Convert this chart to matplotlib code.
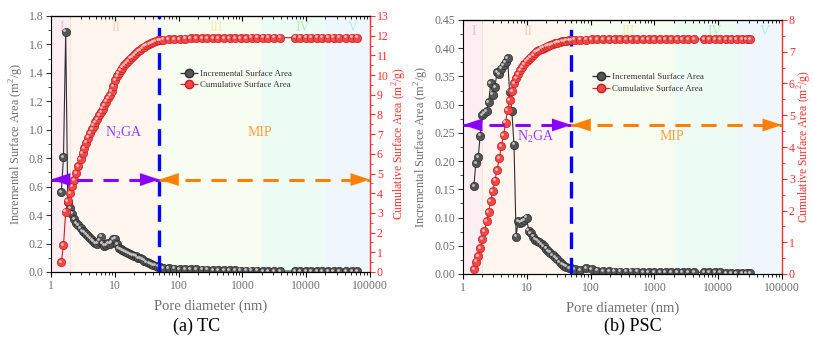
import matplotlib
matplotlib.use("Agg")
import matplotlib.pyplot as plt
from matplotlib.lines import Line2D
from matplotlib.ticker import FixedLocator, NullFormatter, MultipleLocator, FormatStrFormatter
import matplotlib.transforms as mtransforms

plt.rcParams['font.family'] = ['Liberation Serif', 'DejaVu Serif']
plt.rcParams['mathtext.fontset'] = 'custom'
plt.rcParams['mathtext.rm'] = 'Liberation Serif'

# ---------------- DATA ----------------
# (a) TC
tc_d = [1.45, 1.57, 1.70, 1.83, 1.97, 2.12, 2.30, 2.48, 2.68, 2.90, 3.12, 3.35, 3.58, 3.82, 4.08,
        4.36, 4.66, 4.98, 5.32, 5.68, 6.05, 6.45, 6.88, 7.34, 7.83, 8.35, 8.90, 9.48, 10.1, 10.8,
        11.5, 12.3, 13.1, 14.0, 15.0, 16.1, 17.3, 18.6, 20.0, 21.5, 23.2, 25.0, 27.0, 29.2, 31.6,
        34.2, 37.0, 40.1, 43.5, 47.2, 51.0,
        57, 70, 85, 104, 127, 155, 190, 232, 283, 346, 422, 516, 630, 770, 940, 1150, 1400, 1710,
        2090, 2550, 3120, 3900, 6650, 8100, 9900, 12100, 14800, 18000, 22000, 27000, 33000,
        42000, 52000, 63000]
tc_inc = [0.56, 0.81, 1.69, 0.49, 0.45, 0.41, 0.37, 0.345, 0.33, 0.31, 0.29, 0.28, 0.265, 0.25, 0.237,
          0.225, 0.213, 0.205, 0.20, 0.22, 0.248, 0.20, 0.185, 0.19, 0.205, 0.20, 0.21, 0.23, 0.235, 0.195,
          0.17, 0.16, 0.152, 0.145, 0.14, 0.132, 0.125, 0.12, 0.115, 0.11, 0.10, 0.095, 0.088, 0.08, 0.072,
          0.065, 0.058, 0.05, 0.045, 0.038, 0.033,
          0.028, 0.025, 0.023, 0.021, 0.020, 0.019, 0.018, 0.017, 0.016, 0.015, 0.014, 0.013, 0.012,
          0.011, 0.010, 0.010, 0.009, 0.009, 0.008, 0.008, 0.007, 0.007, 0.006, 0.006, 0.006, 0.006,
          0.005, 0.005, 0.005, 0.005, 0.005, 0.004, 0.004, 0.004]
tc_cum = [0.5, 1.35, 3.06, 3.6, 4.0, 4.35, 4.68, 5.02, 5.37, 5.75, 6.05, 6.3, 6.57, 6.83, 7.04,
          7.25, 7.43, 7.6, 7.78, 7.95, 8.12, 8.3, 8.48, 8.65, 8.82, 9.0, 9.2, 9.45, 9.75, 9.95,
          10.1, 10.25, 10.38, 10.5, 10.6, 10.72, 10.83, 10.93, 11.03, 11.12, 11.2, 11.28, 11.36, 11.44, 11.51,
          11.57, 11.63, 11.68, 11.72, 11.76, 11.78,
          11.80, 11.82, 11.83, 11.84, 11.85, 11.86, 11.86, 11.87, 11.87, 11.88, 11.88, 11.88, 11.89,
          11.89, 11.89, 11.89, 11.90, 11.90, 11.90, 11.90, 11.90, 11.90, 11.90, 11.90, 11.90, 11.90,
          11.90, 11.90, 11.90, 11.90, 11.90, 11.90, 11.90, 11.90]

# (b) PSC
psc_d = [1.48, 1.59, 1.73, 1.86, 2.02, 2.17, 2.35, 2.53, 2.72, 2.92, 3.17, 3.41, 3.71, 3.99, 4.33,
         4.65, 5.0, 5.37, 5.83, 6.3, 6.8, 7.3, 7.9, 8.5, 9.2, 9.9, 10.7, 11.5, 12.4, 13.4,
         14.5, 15.7, 17.0, 18.4, 20.0, 21.7, 23.5, 25.5, 27.7, 30.0, 32.6, 35.4, 38.5, 41.8, 45.5, 49.5,
         56, 69, 85, 104, 128, 157, 193, 237, 291, 357, 438, 538, 660, 810, 995, 1220, 1500, 1840,
         2260, 2780, 3410, 4190, 6000, 7300, 8900, 10800, 13200, 16000, 19500, 23700, 28000, 32000]
psc_inc = [0.156, 0.197, 0.207, 0.245, 0.282, 0.285, 0.289, 0.305, 0.338, 0.318, 0.331, 0.358, 0.354, 0.364, 0.370,
           0.376, 0.382, 0.323, 0.288, 0.229, 0.066, 0.094, 0.091, 0.093, 0.096, 0.100, 0.077, 0.072, 0.066, 0.061,
           0.059, 0.056, 0.053, 0.049, 0.045, 0.041, 0.038, 0.034, 0.030, 0.026, 0.021, 0.018, 0.015, 0.013, 0.011, 0.010,
           0.008, 0.007, 0.010, 0.008, 0.006, 0.005, 0.005, 0.004, 0.004, 0.004, 0.004, 0.004, 0.003, 0.003,
           0.003, 0.003, 0.003, 0.003, 0.003, 0.003, 0.003, 0.003, 0.003, 0.003, 0.003, 0.003, 0.002, 0.002,
           0.002, 0.002, 0.002, 0.002]
psc_cum = [0.15, 0.39, 0.57, 0.81, 1.09, 1.36, 1.66, 1.96, 2.30, 2.61, 2.94, 3.28, 3.64, 4.03, 4.38,
           4.77, 5.17, 5.48, 5.77, 6.0, 6.17, 6.3, 6.42, 6.52, 6.62, 6.70, 6.77, 6.84, 6.90, 6.97,
           7.02, 7.06, 7.10, 7.13, 7.16, 7.19, 7.22, 7.25, 7.27, 7.29, 7.31, 7.33, 7.34, 7.35, 7.36, 7.37,
           7.38, 7.38, 7.38, 7.39, 7.39, 7.39, 7.39, 7.39, 7.40, 7.40, 7.40, 7.40, 7.40, 7.40,
           7.40, 7.40, 7.40, 7.40, 7.40, 7.40, 7.40, 7.40, 7.40, 7.40, 7.40, 7.40, 7.40, 7.40,
           7.40, 7.40, 7.40, 7.40]

region_edges = [1, 2, 50, 2000, 20000, 100000]
region_names = ['I', 'II', 'III', 'IV', 'V']
region_label_x = [1.45, 10.4, 390, 8800, 53000]
region_fill = ['#fdeef3', '#fff6f0', '#f8fdf1', '#eefcf6', '#eff7fd']
region_text = ['#f7b9d3', '#f8d2b6', '#f3efb0', '#b5f2b5', '#b3eef6']

x_ticks = [1, 10, 100, 1000, 10000, 100000]
x_ticklabels = ['1', '10', '100', '1000', '10000', '100000']

GREY = '#6e6e6e'
RED = '#ff3030'
PURPLE = '#8a00ff'
ORANGE = '#ff8000'
BLUE = '#0000ff'


def balls(ax, x, y, face, edge, hl, zorder):
    ax.plot(x, y, '-', color=edge, lw=0.8, zorder=zorder)
    ax.plot(x, y, 'o', ms=6, mfc=face, mec=edge, mew=0.5, zorder=zorder + 0.1, linestyle='none')
    off = mtransforms.offset_copy(ax.transData, fig=ax.figure, x=-0.9, y=0.9, units='points')
    ax.plot(x, y, 'o', ms=2.0, mfc=hl, mec='none', zorder=zorder + 0.2, linestyle='none',
            transform=off)


def arrow_line(ax, x0, x1, y, color, head_left=True, head_right=True):
    ax.plot([x0, x1], [y, y], color=color, lw=2.2, dashes=(5, 3.5), zorder=6, solid_capstyle='butt')
    st = '-|>,head_length=1.15,head_width=0.38'
    if head_left:
        ax.annotate('', xy=(x0, y), xytext=(14, 0), textcoords='offset points',
                    arrowprops=dict(arrowstyle=st, color=color, lw=0.1, mutation_scale=12,
                                    shrinkA=0, shrinkB=0), zorder=7, annotation_clip=False)
    if head_right:
        ax.annotate('', xy=(x1, y), xytext=(-14, 0), textcoords='offset points',
                    arrowprops=dict(arrowstyle=st, color=color, lw=0.1, mutation_scale=12,
                                    shrinkA=0, shrinkB=0), zorder=7, annotation_clip=False)


def panel(fig, rect, d, inc, cum, ymax_l, ystep_l, fmt_l, ymax_r, arrow_y, text_y, label_y,
          caption, cap_x, ylab_r_x, ylab_l_x):
    ax = fig.add_axes(rect)
    ax.set_xscale('log')
    ax.set_xlim(1, 100000)
    ax.set_ylim(0, ymax_l)
    for i in range(5):
        ax.axvspan(region_edges[i], region_edges[i + 1], color=region_fill[i], zorder=0, lw=0)
        ax.text(region_label_x[i], label_y, region_names[i], color=region_text[i], fontsize=10,
                ha='center', va='center', zorder=1)
    ax.axvline(2, color='#fbe0d0', lw=0.6, zorder=0.5)
    balls(ax, d, inc, '#555555', '#2e2e2e', '#c8c8c8', 3)

    ax.axvline(50, color=BLUE, lw=2.4, dashes=(5, 2.6), zorder=8)

    ax2 = ax.twinx()
    ax2.set_ylim(0, ymax_r)
    balls(ax2, d, cum, '#f04848', '#c81e1e', '#ffc0c0', 3)
    arrow_line(ax2, 1, 50, arrow_y, PURPLE)
    arrow_line(ax2, 50, 100000, arrow_y, ORANGE)
    ax2.text(13.7, text_y, r'N$_\mathregular{2}$GA', color='#9a3cff', fontsize=10, ha='center', va='center')
    ax2.text(1850, text_y, 'MIP', color='#ffa040', fontsize=10, ha='center', va='center')

    # x axis
    ax.xaxis.set_major_locator(FixedLocator(x_ticks))
    ax.set_xticklabels(x_ticklabels)
    ax.tick_params(axis='x', which='major', direction='out', length=3.5, width=0.8, labelsize=8.5,
                   labelcolor=GREY, pad=2)
    ax.tick_params(axis='x', which='minor', direction='out', length=2, width=0.6)
    sec = ax.secondary_xaxis('top')
    sec.xaxis.set_major_locator(FixedLocator(x_ticks))
    sec.xaxis.set_major_formatter(NullFormatter())
    sec.xaxis.set_minor_formatter(NullFormatter())
    sec.tick_params(axis='x', which='major', direction='in', length=3.5, width=0.8)
    sec.tick_params(axis='x', which='minor', direction='in', length=2, width=0.6)
    sec.spines['top'].set_linewidth(0.8)

    # left y
    ax.yaxis.set_major_locator(MultipleLocator(ystep_l))
    ax.yaxis.set_minor_locator(MultipleLocator(ystep_l / 2))
    ax.yaxis.set_major_formatter(FormatStrFormatter(fmt_l))
    ax.tick_params(axis='y', which='major', direction='out', length=3.5, width=0.8, labelsize=8.5,
                   labelcolor=GREY, color='#333333', pad=2)
    ax.tick_params(axis='y', which='minor', direction='out', length=2, width=0.6, color='#333333')
    # right y
    ax2.yaxis.set_major_locator(MultipleLocator(1))
    ax2.yaxis.set_minor_locator(MultipleLocator(0.5))
    ax2.tick_params(axis='y', which='major', direction='out', length=3.5, width=0.8, labelsize=8.5,
                    labelcolor=RED, color=RED, pad=1.5)
    ax2.tick_params(axis='y', which='minor', direction='out', length=2, width=0.6, color=RED)
    ax2.spines['right'].set_color(RED)
    ax2.spines['right'].set_linewidth(1.0)
    for s in ['left', 'bottom', 'top']:
        ax.spines[s].set_linewidth(0.8)
    ax.spines['right'].set_visible(False)
    ax2.spines['left'].set_visible(False)

    ax.set_xlabel('Pore diameter (nm)', fontsize=10.5, color=GREY, labelpad=6)
    fig.text(ylab_l_x, rect[1] + rect[3] / 2, 'Incremental Surface Area (m$^\\mathregular{2}$/g)',
             rotation=90, fontsize=8.8, color=GREY, ha='center', va='center')
    fig.text(ylab_r_x, rect[1] + rect[3] / 2, 'Cumulative Surface Area (m$^\\mathregular{2}$/g)',
             rotation=90, fontsize=8.4, color=RED, ha='center', va='center')
    fig.text(cap_x, 0.035, caption, fontsize=13, color='black', ha='center', va='center')

    h1 = Line2D([], [], color='#2e2e2e', lw=0.9, ls='--', marker='o', ms=6, mfc='#555555', mec='#2e2e2e')
    h2 = Line2D([], [], color='#e02020', lw=0.9, ls='--', marker='o', ms=6, mfc='#f04848', mec='#c81e1e')
    leg = ax2.legend([h1, h2], ['Incremental Surface Area', 'Cumulative Surface Area'],
                     loc='upper left', bbox_to_anchor=(0.385, 0.815), frameon=False, fontsize=6.4,
                     handlelength=2.0, handletextpad=0.2, borderpad=0.2, labelspacing=0.35)
    for t in leg.get_texts():
        t.set_color('#333333')
    return ax, ax2


fig = plt.figure(figsize=(8.13, 3.38), dpi=100)
panel(fig, [51 / 813, 1 - 272 / 338, 319 / 813, 256 / 338], tc_d, tc_inc, tc_cum,
      1.8, 0.2, '%.1f', 13, 0.65 * 13 / 1.8, 0.98 * 13 / 1.8, 1.72,
      '(a) TC', 197 / 813, 400 / 813, 17 / 813)
panel(fig, [463 / 813, 1 - 274 / 338, 319 / 813, 254 / 338], psc_d, psc_inc, psc_cum,
      0.45, 0.05, '%.2f', 8, 0.264 * 8 / 0.45, 0.243 * 8 / 0.45, 0.43,
      '(b) PSC', 633 / 813, 805 / 813, 422 / 813)

fig.savefig('out.png', dpi=100)
